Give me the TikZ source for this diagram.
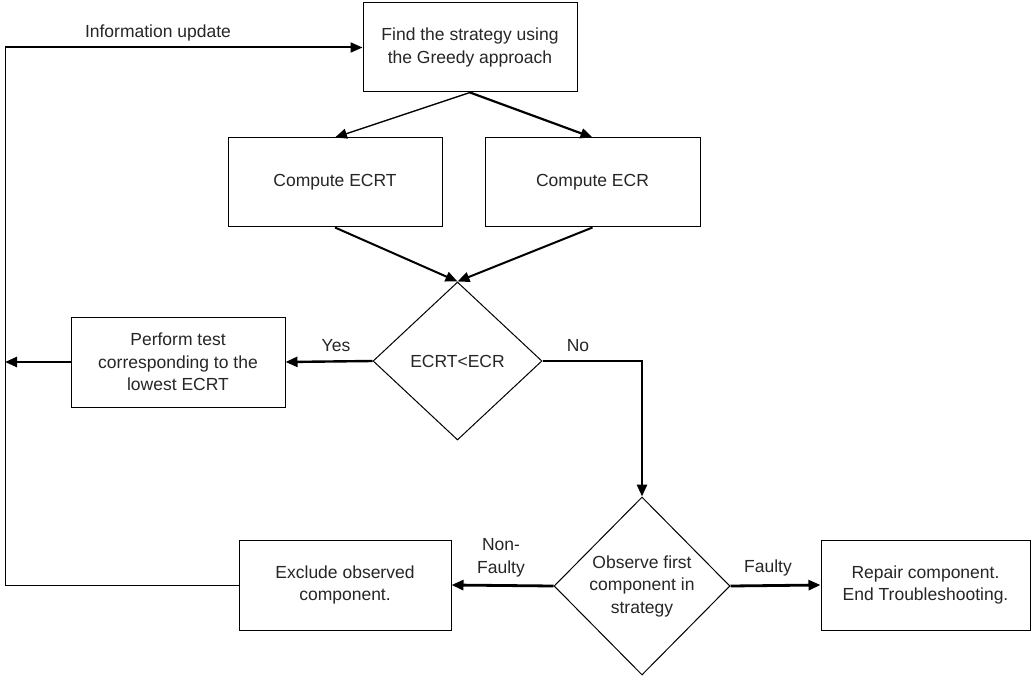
\documentclass[tikz,border=0pt]{standalone}
\usepackage{fontspec}
\setmainfont{Liberation Sans}
\usetikzlibrary{shapes.geometric,arrows.meta}
\begin{document}
\begin{tikzpicture}[x=1pt,y=-1pt,
  every node/.style={font=\fontsize{17.5}{22.5}\selectfont, text=black!85},
  box/.style={draw, line width=1pt, minimum width=#1, minimum height=90pt,
    inner sep=0pt, align=center},
  decision/.style={draw, diamond, line width=1pt, inner sep=0pt, align=center},
  arr/.style={-{Triangle[length=12pt,width=10pt]}},
  flow/.style={arr, line width=2.4pt},
  thin/.style={line width=1pt},
  tag/.style={align=center, inner sep=0pt}
]
\useasboundingbox[fill=white] (0,0) rectangle (1032,676);

% process boxes
\node[box=214pt, minimum height=89pt] (find) at (470,47.5)
  {Find the strategy using\\the Greedy approach};
\node[box=214pt, minimum height=89pt] (ecrt) at (335,182.5) {Compute ECRT};
\node[box=215pt, minimum height=89pt] (ecr) at (592.5,182.5) {Compute ECR};
\node[box=214pt] (perform) at (178,362)
  {Perform test\\corresponding to the\\lowest ECRT};
\node[box=212pt] (exclude) at (345,585) {Exclude observed\\component.};
\node[box=209pt] (repair) at (925.5,585)
  {Repair component.\\End Troubleshooting.};

% decisions
\node[decision, minimum width=169pt, minimum height=158pt] (cmp) at (457.5,361)
  {ECRT<ECR};
\node[decision, minimum width=176pt, minimum height=178pt] (observe) at (642,586)
  {Observe first\\component in\\strategy};

% routing points
\coordinate (topleft) at (5,47.5);
\coordinate (bottomleft) at (5,585);
\coordinate (leftend) at (5,362);
\coordinate (nobend) at (642,361);

% connectors
\draw[arr, line width=1.3pt] (find.south) -- (ecrt.north);
\draw[arr, line width=2.2pt] (find.south) -- (ecr.north);
\draw[arr, line width=2pt] (ecrt.south) -- (cmp.north);
\draw[arr, line width=2pt] (ecr.south) -- (cmp.north);
\draw[flow] (cmp.west) -- (perform.east);
\draw[flow] (perform.west) -- (leftend);
\draw[flow, line width=2.8pt] (cmp.east) -- (nobend) -- (observe.north);
\draw[flow, line width=2.8pt] (observe.west) -- (exclude.east);
\draw[flow, line width=2.8pt] (observe.east) -- (repair.west);
\draw[thin] (exclude.west) -- (bottomleft) -- (topleft);
\draw[arr, line width=2pt] (topleft) -- (find.west);

% connector labels
\node[tag] (infolbl) at (158,33) {Information update};
\node[tag] (yeslbl) at (336,346) {Yes};
\node[tag] (nolbl) at (578,346) {No};
\node[tag] (nonfaultylbl) at (501,558) {Non-\\Faulty};
\node[tag] (faultylbl) at (768,568) {Faulty};
\end{tikzpicture}
\end{document}
